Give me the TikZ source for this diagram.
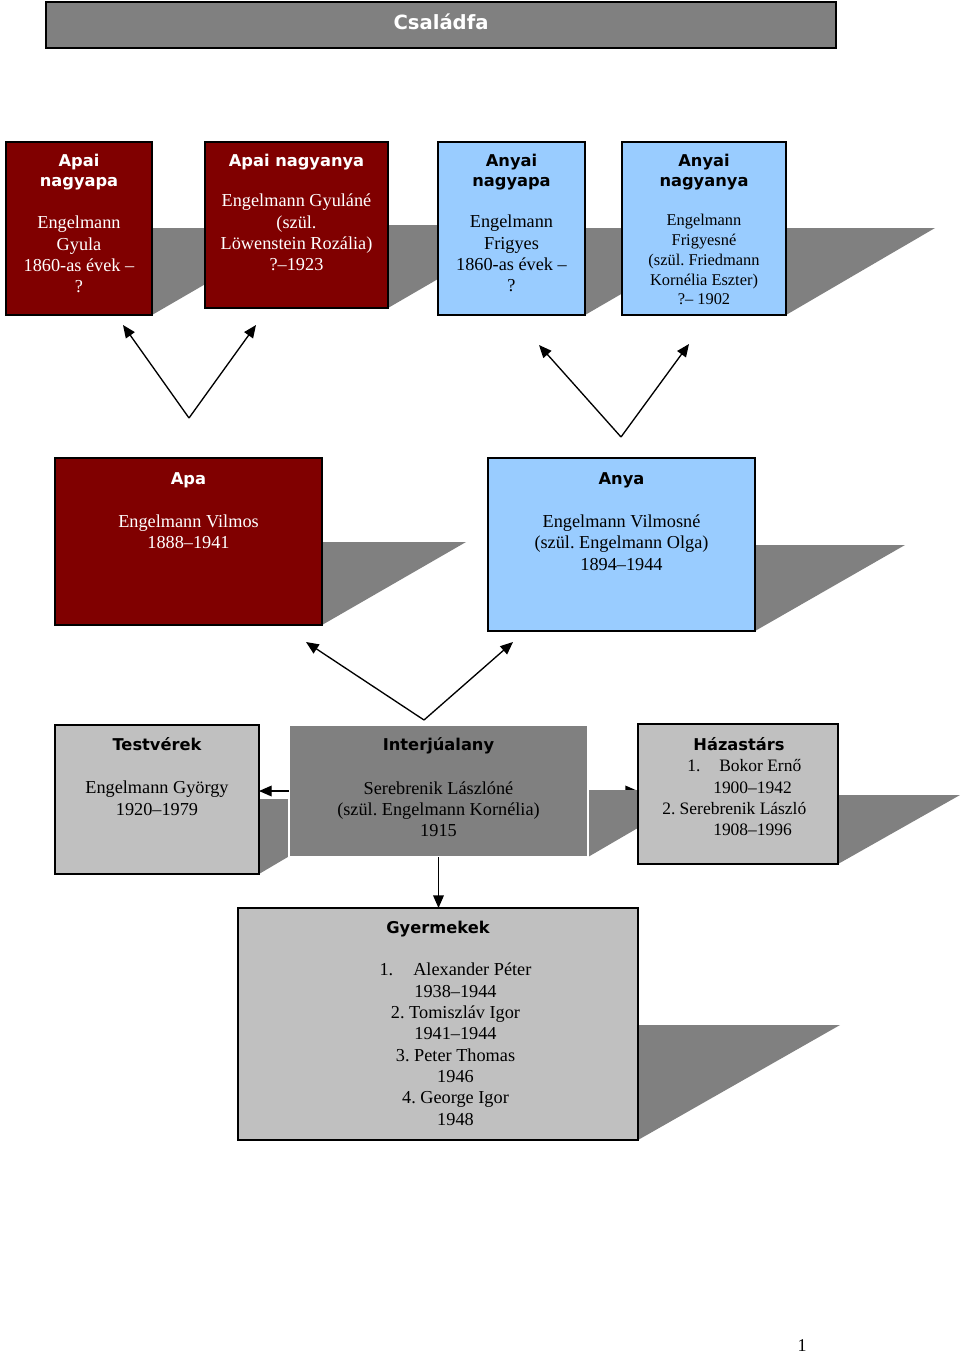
\documentclass[tikz,border=0pt]{standalone}
\usepackage{fontspec}
\setmainfont{Liberation Serif}
\newfontfamily\hfont{DejaVu Sans}
\usetikzlibrary{arrows.meta,fit}
\definecolor{dred}{HTML}{800000}
\definecolor{lblue}{HTML}{99CCFF}
\definecolor{lgrey}{HTML}{C0C0C0}
\definecolor{mgrey}{HTML}{808080}
\frenchspacing
\begin{document}
\begin{tikzpicture}[x=0.75pt,y=-0.75pt,
  box/.style={draw=black, line width=1.1pt, inner sep=0pt, outer sep=0pt},
  redbox/.style={box, fill=dred},
  bluebox/.style={box, fill=lblue},
  greybox/.style={box, fill=lgrey},
  shd/.style={fill=mgrey},
  hd/.style={font=\hfont\bfseries\fontsize{12.2pt}{15pt}\selectfont, align=center, inner sep=0pt, anchor=base},
  bd/.style={font=\fontsize{13.7pt}{16pt}\selectfont, align=center, inner sep=0pt, anchor=base},
  bdsmall/.style={font=\fontsize{12.3pt}{14.8pt}\selectfont, align=center, inner sep=0pt, anchor=base},
  arr/.style={line width=1pt, -{Triangle[length=9.5pt,width=8pt]}}
]
\useasboundingbox (0,0) rectangle (960,1354);
\fill[white] (0,0) rectangle (960,1354);

% title bar
\node[fit={(46,2)(836,48)}, draw=black, line width=1.2pt, fill=mgrey, inner sep=0pt] (title) {};
\node[font=\hfont\bfseries\fontsize{14.7pt}{17pt}\selectfont, text=white, inner sep=0pt, anchor=base] (titletext) at (441,29.3) {Családfa};

% coordinates of free connector ends
\coordinate (v1) at (189,418);
\coordinate (v1l) at (123,325);
\coordinate (v1r) at (256,325);
\coordinate (v2) at (621,437);
\coordinate (v2l) at (539,345);
\coordinate (v2r) at (689,344);
\coordinate (v3) at (424,720);
\coordinate (v3l) at (306,642);
\coordinate (v3r) at (513,642);

% arrow hidden under the shadow (drawn first)
\coordinate (ijE) at (588,791);
\coordinate (hzW) at (638,791);
\draw[arr] (ijE) -- (hzW);

% shadows
\fill[shd] (152,228) -- (302,228) -- (152,315) -- cycle;
\fill[shd] (388,225) -- (531,225) -- (388,308) -- cycle;
\fill[shd] (585,228) -- (735,228) -- (585,315) -- cycle;
\fill[shd] (786,228) -- (935,228) -- (786,315) -- cycle;
\fill[shd] (322,542) -- (466,542) -- (322,625) -- cycle;
\fill[shd] (755,545) -- (905,545) -- (755,631) -- cycle;
\fill[shd] (259,799) -- (386,799) -- (259,874) -- cycle;
\fill[shd] (588,790) -- (703,790) -- (588,857) -- cycle;
\fill[shd] (838,795) -- (960,795) -- (838,864) -- cycle;
\fill[shd] (638,1025) -- (840,1025) -- (638,1140) -- cycle;

% boxes
\node[redbox, fit={(6,142)(152,315)}] (b1) {};
\node[redbox, fit={(205,142)(388,308)}] (b2) {};
\node[bluebox, fit={(438,142)(585,315)}] (b3) {};
\node[bluebox, fit={(622,142)(786,315)}] (b4) {};
\node[redbox, fit={(55,458)(322,625)}] (apa) {};
\node[bluebox, fit={(488,458)(755,631)}] (anya) {};
\node[greybox, fit={(55,725)(259,874)}] (tv) {};
\node[fit={(289,725)(588,857)}, fill=mgrey, draw=white, line width=1.5pt, inner sep=0pt, outer sep=0pt] (ij) {};
\node[greybox, fit={(638,724)(838,864)}] (hz) {};
\node[greybox, fit={(238,908)(638,1140)}] (gy) {};

% texts (anchor base = baseline of the last line)
\node[hd, text=white] (b1h) at (79,186) {Apai\\nagyapa};
\node[bd, text=white] (b1t) at (79,292.7) {Engelmann\\Gyula\\1860-as évek –\\?};
\node[hd, text=white] (b2h) at (296.5,166) {Apai nagyanya};
\node[bd, text=white] (b2t) at (296.5,270.7) {Engelmann Gyuláné\\(szül.\\Löwenstein Rozália)\\?–1923};
\node[hd] (b3h) at (511.5,186) {Anyai\\nagyapa};
\node[bd] (b3t) at (511.5,291.7) {Engelmann\\Frigyes\\1860-as évek –\\?};
\node[hd] (b4h) at (704,186) {Anyai\\nagyanya};
\node[bdsmall] (b4t) at (704,304.9) {Engelmann\\Frigyesné\\(szül. Friedmann\\Kornélia Eszter)\\?– 1902};

\node[hd, text=white] (apah) at (188.5,484.3) {Apa};
\node[bd, text=white] (apat) at (188.5,548.6) {Engelmann Vilmos\\1888–1941};
\node[hd] (anyah) at (621.5,484.3) {Anya};
\node[bd] (anyat) at (621.5,570) {Engelmann Vilmosné\\(szül. Engelmann Olga)\\1894–1944};

\node[hd] (tvh) at (157,750.7) {Testvérek};
\node[bd] (tvt) at (157,815.3) {Engelmann György\\1920–1979};
\node[hd] (ijh) at (438.5,750.7) {Interjúalany};
\node[bd] (ijt) at (438.5,836.7) {Serebrenik Lászlóné\\(szül. Engelmann Kornélia)\\1915};
\node[hd] (hzh) at (739,750.7) {Házastárs};
\node[font=\fontsize{13.1pt}{16pt}\selectfont, align=left, inner sep=0pt, anchor=base west] (hzt) at (662,835.7)
  {\hspace*{18.75pt}\makebox[24pt][l]{1.}Bokor Ernő\\\hspace*{38.25pt}1900–1942\\2. Serebrenik László\\\hspace*{38.25pt}1908–1996};
\node[hd] (gyh) at (438,933.3) {Gyermekek};
\node[bd] (gyt) at (455.5,1125.3) {1.\hspace{15pt}Alexander Péter\\1938–1944\\2. Tomiszláv Igor\\1941–1944\\3. Peter Thomas\\1946\\4. George Igor\\1948};

% connectors
\draw[arr] (v1) -- (v1l);
\draw[arr] (v1) -- (v1r);
\draw[arr] (v2) -- (v2l);
\draw[arr] (v2) -- (v2r);
\draw[arr] (v3) -- (v3l);
\draw[arr] (v3) -- (v3r);
\draw[arr] (ij.west) -- (ij.west -| tv.east);
\draw[arr] (ij.south) -- (ij.south |- gy.north);

% page number
\node[font=\fontsize{13.5pt}{16pt}\selectfont, inner sep=0pt, anchor=base] (pagenum) at (802,1351) {1};
\end{tikzpicture}
\end{document}
